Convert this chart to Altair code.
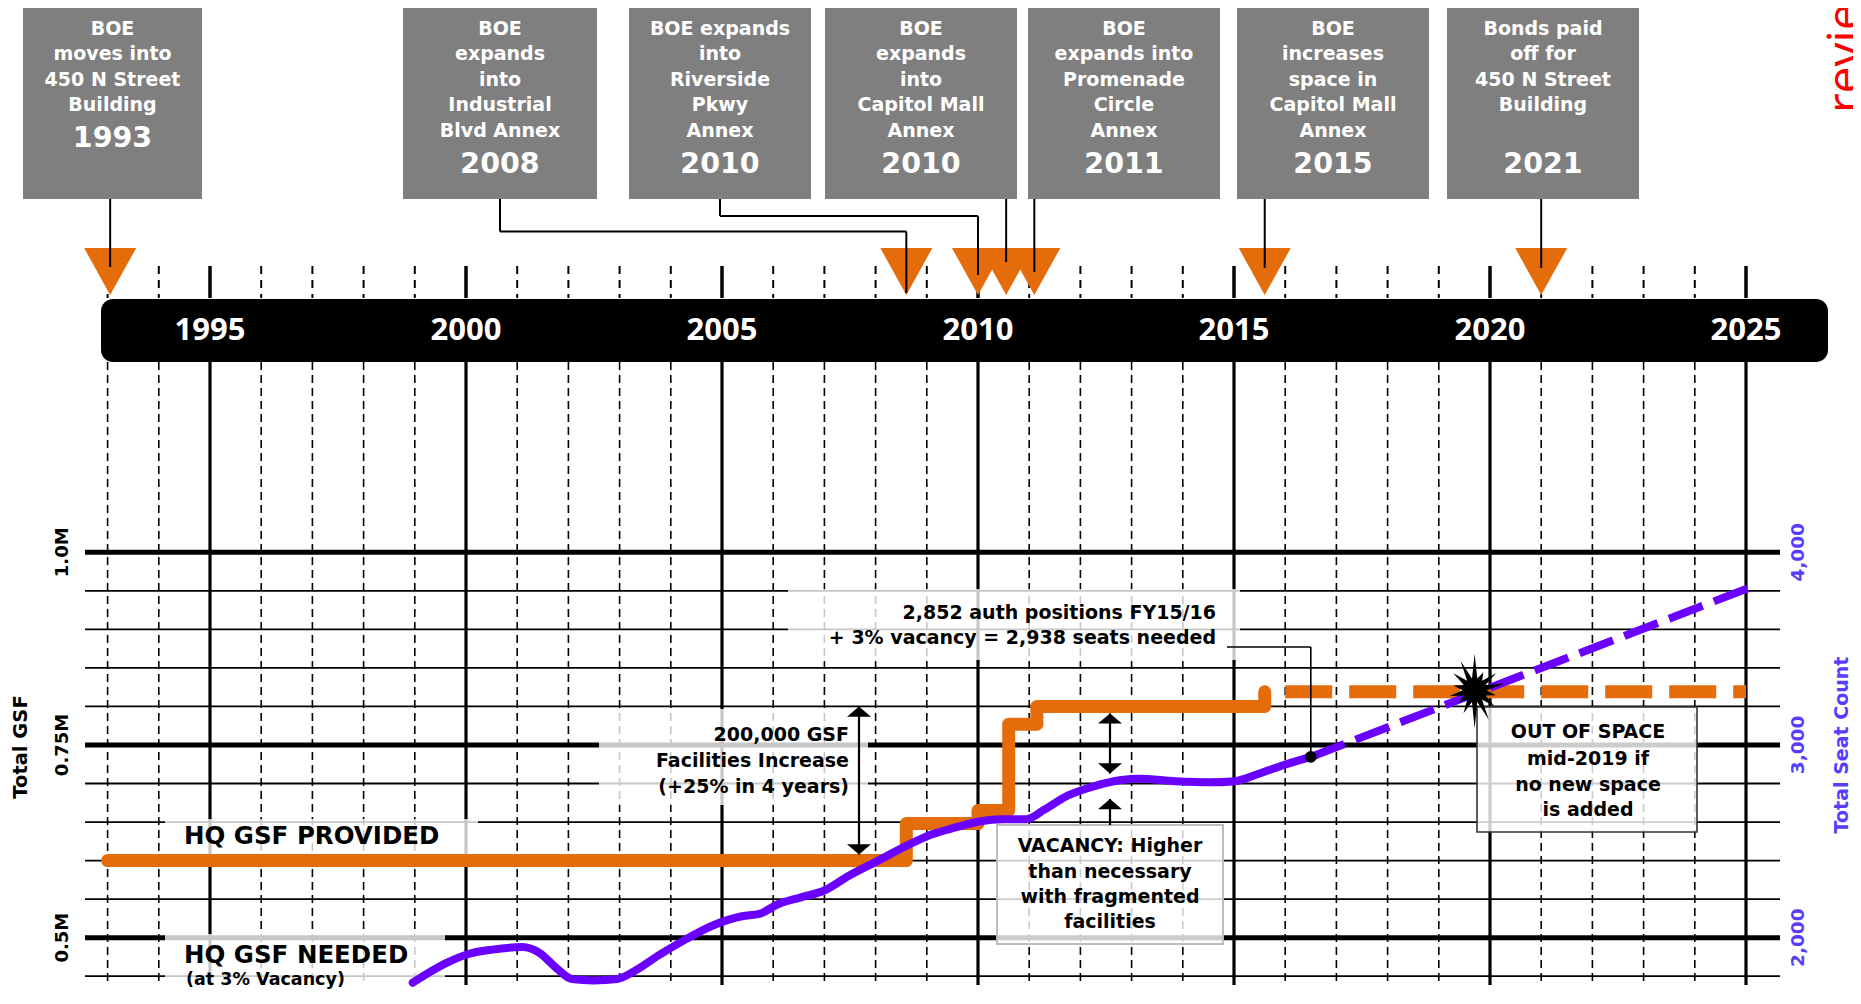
import math
import altair as alt
import pandas as pd

# ------------------------------------------------------------------ data
milestone_lines = [
    ["BOE", "moves into", "450 N Street", "Building"],
    ["BOE", "expands", "into", "Industrial", "Blvd Annex"],
    ["BOE expands", "into", "Riverside", "Pkwy", "Annex"],
    ["BOE", "expands", "into", "Capitol Mall", "Annex"],
    ["BOE", "expands into", "Promenade", "Circle", "Annex"],
    ["BOE", "increases", "space in", "Capitol Mall", "Annex"],
    ["Bonds paid", "off for", "450 N Street", "Building"],
]
milestone_years = ["1993", "2008", "2010", "2010", "2011", "2015", "2021"]
event_dates = [1993.05, 2008.6, 2010.0, 2010.55, 2011.1, 2015.6, 2021.0]

timeline_years = [1995, 2000, 2005, 2010, 2015, 2020, 2025]
minor_years = [1993, 1994, 1996, 1997, 1998, 1999, 2001, 2002, 2003, 2004,
               2006, 2007, 2008, 2009, 2011, 2012, 2013, 2014, 2016, 2017,
               2018, 2019, 2021, 2022, 2023, 2024]

gsf_major = [0.5, 0.75, 1.0]
gsf_major_labels = ["0.5M", "0.75M", "1.0M"]
gsf_minor = [0.45, 0.55, 0.6, 0.65, 0.7, 0.8, 0.85, 0.9, 0.95]
seat_ticks = [2000, 3000, 4000]
seat_tick_labels = ["2,000", "3,000", "4,000"]
GSF_PER_SEAT = 250  # 4,000 seats align with 1.0M GSF

# HQ GSF provided (millions), step line
provided_year = [1993.0, 2008.6, 2008.6, 2010.0, 2010.0, 2010.6, 2010.6,
                 2011.15, 2011.15, 2015.6, 2015.6]
provided_gsf = [0.60, 0.60, 0.648, 0.648, 0.665, 0.665, 0.777,
                0.777, 0.80, 0.80, 0.819]
provided_proj_year = [2016.0, 2025.0]
provided_proj_gsf = [0.819, 0.819]

# HQ GSF needed expressed as seats
needed_year = [1998.96, 1999.59, 2000.03, 2000.52, 2001.10, 2001.44, 2001.75,
               2002.07, 2002.49, 2002.95, 2003.30, 2003.76, 2004.23, 2004.81,
               2005.39, 2005.73, 2006.08, 2006.54, 2007.01, 2007.47, 2008.05,
               2008.63, 2009.09, 2009.56, 2010.02, 2010.49, 2010.95, 2011.30,
               2011.76, 2012.22, 2012.80, 2013.15, 2013.85, 2014.54, 2015.01,
               2015.47, 2015.93, 2016.50]
needed_seats = [1766, 1865, 1914, 1938, 1951, 1920, 1846, 1785, 1778, 1785,
                1828, 1908, 1982, 2062, 2111, 2123, 2172, 2209, 2246, 2320,
                2400, 2480, 2535, 2572, 2603, 2615, 2615, 2665, 2738, 2782,
                2818, 2825, 2812, 2806, 2812, 2849, 2892, 2938]
needed_proj_year = [2016.5, 2025.1]
needed_proj_seats = [2938, 3820]

seats_point_year, seats_point = 2016.5, 2938
out_of_space_year, out_of_space_gsf = 2019.7, 0.821

# ------------------------------------------------------------------ layout
W, H = 1845, 982
PX_1995, PX_PER_YEAR = 210.0, 51.2      # page px of 1995 and px per year
PY_1M, PY_PER_M = 552.3, 770.7          # page px of 1.0M and px per 1M GSF


def yr(p):   # page x -> year
    return 1995 + (p - PX_1995) / PX_PER_YEAR


def gv(p):   # page y -> GSF (M)
    return 1 - (p - PY_1M) / PY_PER_M


def cy(p):   # page y -> chart px
    return p - 8


FONT = "DejaVu Sans"
FONT2 = "Open Sans"
ORANGE = "#E46C0A"
PURPLE = "#6A00FF"
BLUE_TXT = "#5A3CFF"
BOX_GRAY = "#7F7F7F"

xs = alt.Scale(domain=[yr(8), yr(8 + W)], nice=False, zero=False)
ys = alt.Scale(domain=[gv(8 + H), gv(8)], nice=False, zero=False)


def X(f="x"):
    return alt.X(f"{f}:Q", scale=xs, axis=None)


def Y(f="y"):
    return alt.Y(f"{f}:Q", scale=ys, axis=None)


def text_layer(rows, align="center", size=19, color="black", angle=0,
               baseline="middle", font=FONT):
    df = pd.DataFrame(rows, columns=["x", "y", "text"])
    return alt.Chart(df).mark_text(
        align=align, baseline=baseline, fontSize=size, fontWeight="bold",
        font=font, color=color, angle=angle
    ).encode(x=X("x"), y=Y("y"), text="text:N")


layers = []

# ---- grid below the timeline
layers.append(alt.Chart(pd.DataFrame({"x": minor_years})).mark_rule(
    color="black", strokeWidth=1.6, strokeDash=[8, 5]).encode(
    x=X("x"), y=alt.value(cy(362)), y2=alt.value(cy(985))))
layers.append(alt.Chart(pd.DataFrame({"x": timeline_years})).mark_rule(
    color="black", strokeWidth=3.2).encode(
    x=X("x"), y=alt.value(cy(362)), y2=alt.value(cy(985))))
layers.append(alt.Chart(pd.DataFrame({"y": gsf_minor})).mark_rule(
    color="black", strokeWidth=1.8).encode(
    y=Y("y"), x=alt.value(85 - 8), x2=alt.value(1780 - 8)))
layers.append(alt.Chart(pd.DataFrame({"y": gsf_major})).mark_rule(
    color="black", strokeWidth=5).encode(
    y=Y("y"), x=alt.value(85 - 8), x2=alt.value(1780 - 8)))

# ---- translucent annotation boxes (page px: x1, x2, y1, y2)
cover_px = [(165, 478, 819, 856), (165, 445, 934, 990), (599, 868, 709, 805),
            (788, 1240, 589, 660)]
cover = pd.DataFrame([{"x": yr(a), "x2": yr(b), "y": gv(c), "y2": gv(d)}
                      for a, b, c, d in cover_px])
layers.append(alt.Chart(cover).mark_rect(fill="white", fillOpacity=0.78).encode(
    x=X("x"), x2="x2:Q", y=Y("y"), y2="y2:Q"))
vac_box = pd.DataFrame([{"x": yr(997), "x2": yr(1223), "y": gv(825), "y2": gv(944)}])
layers.append(alt.Chart(vac_box).mark_rect(
    fill="white", fillOpacity=0.8, stroke="#BDBDBD", strokeWidth=2).encode(
    x=X("x"), x2="x2:Q", y=Y("y"), y2="y2:Q"))
oos_box = pd.DataFrame([{"x": yr(1477), "x2": yr(1697), "y": gv(707), "y2": gv(832)}])
layers.append(alt.Chart(oos_box).mark_rect(
    fill="white", fillOpacity=0.8, stroke="#333333", strokeWidth=1.6).encode(
    x=X("x"), x2="x2:Q", y=Y("y"), y2="y2:Q"))

# ---- data lines
prov = pd.DataFrame({"x": provided_year, "y": provided_gsf,
                     "i": list(range(len(provided_year)))})
layers.append(alt.Chart(prov).mark_line(
    color=ORANGE, strokeWidth=13, strokeCap="round", strokeJoin="round").encode(
    x=X("x"), y=Y("y"), order="i:Q"))
prov_p = pd.DataFrame({"x": provided_proj_year, "y": provided_proj_gsf})
layers.append(alt.Chart(prov_p).mark_line(
    color=ORANGE, strokeWidth=13, strokeDash=[47, 17]).encode(x=X("x"), y=Y("y")))

need = pd.DataFrame({"x": needed_year,
                     "y": [s * GSF_PER_SEAT / 1e6 for s in needed_seats]})
layers.append(alt.Chart(need).mark_line(
    color=PURPLE, strokeWidth=8, strokeCap="round", interpolate="monotone").encode(
    x=X("x"), y=Y("y")))
need_p = pd.DataFrame({"x": needed_proj_year,
                       "y": [s * GSF_PER_SEAT / 1e6 for s in needed_proj_seats]})
layers.append(alt.Chart(need_p).mark_line(
    color=PURPLE, strokeWidth=8, strokeDash=[36, 12]).encode(x=X("x"), y=Y("y")))

# ---- arrows
ax1, ax2 = yr(859), yr(1110)
shafts = pd.DataFrame([
    {"x": ax1, "y": 0.608, "y2": 0.800},
    {"x": ax2, "y": 0.713, "y2": 0.791},
    {"x": ax2, "y": gv(825), "y2": gv(799)},
])
layers.append(alt.Chart(shafts).mark_rule(color="black", strokeWidth=2.2).encode(
    x=X("x"), y=Y("y"), y2="y2:Q"))
heads_up = pd.DataFrame([{"x": ax1, "y": 0.800}, {"x": ax2, "y": 0.791},
                         {"x": ax2, "y": gv(799)}])
heads_dn = pd.DataFrame([{"x": ax1, "y": 0.608}, {"x": ax2, "y": 0.713}])
layers.append(alt.Chart(heads_up).mark_point(
    shape="M0,0L1,0.85L-1,0.85Z", filled=True, size=576, color="black",
    opacity=1).encode(x=X("x"), y=Y("y")))
layers.append(alt.Chart(heads_dn).mark_point(
    shape="M0,0L1,-0.85L-1,-0.85Z", filled=True, size=576, color="black",
    opacity=1).encode(x=X("x"), y=Y("y")))

# ---- seats-needed callout connector and dot
sp_y = seats_point * GSF_PER_SEAT / 1e6
conn = pd.DataFrame([
    {"x": yr(1227), "y": gv(647), "x2": seats_point_year, "y2": gv(647)},
    {"x": seats_point_year, "y": gv(647), "x2": seats_point_year, "y2": sp_y},
])
layers.append(alt.Chart(conn).mark_rule(color="black", strokeWidth=1.6).encode(
    x=X("x"), y=Y("y"), x2="x2:Q", y2="y2:Q"))
layers.append(alt.Chart(pd.DataFrame([{"x": seats_point_year, "y": sp_y}])).mark_point(
    shape="circle", filled=True, size=140, color="black", opacity=1).encode(
    x=X("x"), y=Y("y")))

# ---- starburst
star_r = [1.0, 0.55, 0.75, 0.85, 0.6, 0.7, 0.9, 1.05, 0.7, 0.55, 0.7, 0.6, 0.75, 0.9]
pts = []
n = len(star_r)
for k in range(n):
    a = -math.pi / 2 + 2 * math.pi * k / n
    pts.append((star_r[k] * math.cos(a), star_r[k] * math.sin(a)))
    a2 = a + math.pi / n
    pts.append((0.33 * math.cos(a2), 0.33 * math.sin(a2)))
star_path = "M" + "L".join(f"{px:.3f},{py:.3f}" for px, py in pts) + "Z"
layers.append(alt.Chart(pd.DataFrame([{"x": out_of_space_year, "y": out_of_space_gsf}])).mark_point(
    shape=star_path, filled=True, size=5300, color="black", opacity=1).encode(
    x=X("x"), y=Y("y")))

# ---- chart annotation text
layers.append(text_layer([
    (yr(184), gv(837), "HQ GSF PROVIDED"),
    (yr(184), gv(956), "HQ GSF NEEDED"),
], align="left", size=24.5))
layers.append(text_layer([(yr(186), gv(980), "(at 3% Vacancy)")], align="left", size=17.5))
layers.append(text_layer([
    (yr(849), gv(735), "200,000 GSF"),
    (yr(849), gv(761), "Facilities Increase"),
    (yr(849), gv(787), "(+25% in 4 years)"),
    (yr(1216), gv(613), "2,852 auth positions FY15/16"),
    (yr(1216), gv(637.5), "+ 3% vacancy = 2,938 seats needed"),
], align="right", size=19))
layers.append(text_layer([
    (yr(1110), gv(846), "VACANCY: Higher"),
    (yr(1110), gv(872), "than necessary"),
    (yr(1110), gv(897), "with fragmented"),
    (yr(1110), gv(922), "facilities"),
    (yr(1588), gv(732), "OUT OF SPACE"),
    (yr(1588), gv(758.5), "mid-2019 if"),
    (yr(1588), gv(784.6), "no new space"),
    (yr(1588), gv(809.5), "is added"),
], align="center", size=19))

# ---- axis labels and titles
layers.append(text_layer([(yr(62.5), v, t) for v, t in zip(gsf_major, gsf_major_labels)],
                         size=18, angle=270))
layers.append(text_layer([(yr(21), gv(747), "Total GSF")], size=19.5, angle=270))
layers.append(text_layer([(yr(1798), s * GSF_PER_SEAT / 1e6, t)
                          for s, t in zip(seat_ticks, seat_tick_labels)],
                         size=18.5, angle=270, color=BLUE_TXT))
layers.append(text_layer([(yr(1842), gv(745), "Total  Seat Count")],
                         size=19, angle=270, color=BLUE_TXT))

# ---- timeline header
layers.append(alt.Chart(pd.DataFrame({"x": minor_years})).mark_rule(
    color="black", strokeWidth=2, strokeDash=[8, 6]).encode(
    x=X("x"), y=alt.value(cy(266)), y2=alt.value(cy(298))))
layers.append(alt.Chart(pd.DataFrame({"x": timeline_years})).mark_rule(
    color="black", strokeWidth=3.5).encode(
    x=X("x"), y=alt.value(cy(266)), y2=alt.value(cy(298))))
layers.append(alt.Chart(pd.DataFrame([{"x": yr(101), "x2": yr(1828)}])).mark_rect(
    color="black", cornerRadius=12).encode(
    x=X("x"), x2="x2:Q", y=alt.value(cy(299)), y2=alt.value(cy(362))))
layers.append(alt.Chart(pd.DataFrame({"x": timeline_years,
                                      "text": [str(y) for y in timeline_years]})).mark_text(
    font=FONT2, fontWeight="bold", fontSize=31, color="white", baseline="middle").encode(
    x=X("x"), y=alt.value(cy(331)), text="text:N"))
layers.append(alt.Chart(pd.DataFrame({"x": event_dates})).mark_point(
    shape="M-1,-0.9L1,-0.9L0,0.9Z", filled=True, size=2704, color=ORANGE,
    opacity=1).encode(x=X("x"), y=alt.value(cy(271.5))))

box_px = [(23, 202), (403, 597), (629, 811), (825, 1017), (1028, 1220),
          (1237, 1429), (1447, 1639)]
elbow_py = [None, 231.5, 216, None, None, None, None]
end_py = [267, 293, 275, 262, 272, 268, 268]
year_py = [137.7, 164, 164, 164, 164, 164, 164]

segs = []
for i, (a, b) in enumerate(box_px):
    ex = event_dates[i]
    if elbow_py[i] is None:
        segs.append({"x": ex, "y": gv(199), "x2": ex, "y2": gv(end_py[i])})
    else:
        c = yr((a + b) / 2)
        e = gv(elbow_py[i])
        segs.append({"x": c, "y": gv(199), "x2": c, "y2": e})
        segs.append({"x": c, "y": e, "x2": ex, "y2": e})
        segs.append({"x": ex, "y": e, "x2": ex, "y2": gv(end_py[i])})
layers.append(alt.Chart(pd.DataFrame(segs)).mark_rule(color="black", strokeWidth=2).encode(
    x=X("x"), y=Y("y"), x2="x2:Q", y2="y2:Q"))

boxes = pd.DataFrame([{"x": yr(a), "x2": yr(b)} for a, b in box_px])
layers.append(alt.Chart(boxes).mark_rect(color=BOX_GRAY).encode(
    x=X("x"), x2="x2:Q", y=alt.value(cy(5)), y2=alt.value(cy(199))))

line_rows, year_rows = [], []
for i, (lines, ytxt) in enumerate(zip(milestone_lines, milestone_years)):
    cx = yr((box_px[i][0] + box_px[i][1]) / 2)
    for j, t in enumerate(lines):
        line_rows.append((cx, gv(28.5 + 25.5 * j), t))
    year_rows.append((cx, gv(year_py[i]), ytxt))
layers.append(text_layer(line_rows, size=19, color="white"))
layers.append(text_layer(year_rows, size=28.5, color="white"))

# ---- margin note (clipped at the right edge)
layers.append(alt.Chart(pd.DataFrame([{"x": yr(1861), "text": "review"}])).mark_text(
    font=FONT2, fontSize=48, color="#FF0000", angle=270, align="left",
    baseline="alphabetic").encode(x=X("x"), y=alt.value(cy(113)), text="text:N"))

chart = alt.layer(*layers).properties(
    width=W, height=H, padding=0,
    autosize=alt.AutoSizeParams(type="none"),
    background="white",
).configure_view(stroke=None)

chart.save("out.html", embed_options={"renderer": "svg", "actions": False})
